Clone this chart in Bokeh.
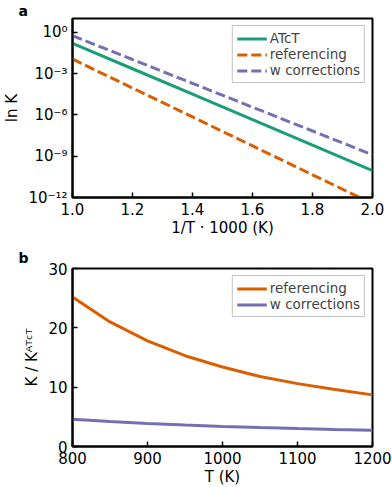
from bokeh.plotting import figure
from bokeh.models import (Range1d, FixedTicker, NumeralTickFormatter, Legend,
                          LegendItem, Title)
from bokeh.layouts import column
from bokeh.embed import file_html
from bokeh.resources import INLINE

# ---------------- data ----------------
# panel a: equilibrium constant vs 1000/T
inv_t = [1.0, 1.2, 1.4, 1.6, 1.8, 2.0]
k_atct = [1.58e-1, 2.24e-3, 3.16e-5, 4.47e-7, 6.31e-9, 8.91e-11]
k_referencing = [1.12e-2, 8.91e-5, 7.08e-7, 5.62e-9, 4.47e-11, 3.55e-13]
k_wcorr = [5.62e-1, 1.05e-2, 1.95e-4, 3.63e-6, 6.76e-8, 1.26e-9]
log_ticks = [1e-12, 1e-9, 1e-6, 1e-3, 1.0]
log_tick_labels = ["10\u207b\u00b9\u00b2", "10\u207b\u2079", "10\u207b\u2076",
                   "10\u207b\u00b3", "10\u2070"]
inv_t_ticks = [1.0, 1.2, 1.4, 1.6, 1.8, 2.0]

# panel b: ratio K / K^ATcT vs T
temps = [800, 850, 900, 950, 1000, 1050, 1100, 1150, 1200]
ratio_referencing = [25.2, 21.0, 17.8, 15.3, 13.4, 11.8, 10.6, 9.6, 8.7]
ratio_wcorr = [4.60, 4.20, 3.88, 3.61, 3.38, 3.19, 3.02, 2.88, 2.75]
t_ticks = [800, 900, 1000, 1100, 1200]
ratio_ticks = [0, 10, 20, 30]

GREEN = "#1b9e77"
ORANGE = "#d95f02"
PURPLE = "#7570b3"
FONT = "DejaVu Sans"


def style(p):
    p.outline_line_color = "black"
    p.outline_line_width = 2
    p.xgrid.visible = False
    p.ygrid.visible = False
    for ax in (p.xaxis[0], p.yaxis[0]):
        ax.axis_line_width = 2
        ax.major_tick_in = 5
        ax.major_tick_out = 0
        ax.major_tick_line_width = 1.5
        ax.minor_tick_line_color = None
        ax.major_label_text_font = FONT
        ax.major_label_text_font_size = "15px"
        ax.major_label_text_color = "black"
        ax.axis_label_text_font = FONT
        ax.axis_label_text_font_size = "15px"
        ax.axis_label_text_font_style = "normal"
        ax.axis_label_text_color = "black"
        ax.major_label_standoff = 5
    p.xaxis[0].axis_label_standoff = 1
    p.yaxis[0].axis_label_standoff = 4


def make_legend(items):
    lg = Legend(items=items, location="top_right")
    lg.label_text_font = FONT
    lg.label_text_font_size = "13.5px"
    lg.label_height = 15
    lg.glyph_height = 15
    lg.glyph_width = 30
    lg.label_standoff = 3
    lg.spacing = 0
    lg.padding = 4
    lg.margin = 7
    lg.border_line_color = "#888888"
    lg.border_line_width = 1
    return lg


def panel_title(txt, standoff):
    return Title(text=txt, align="left", offset=-54, standoff=standoff,
                 text_font=FONT, text_font_size="14px",
                 text_font_style="bold", text_color="black")


# ---------------- panel a ----------------
p1 = figure(width=392, height=240, frame_width=300, frame_height=179,
            y_axis_type="log", x_range=Range1d(1.0, 2.0),
            y_range=Range1d(1e-12, 10.0), output_backend="svg",
            toolbar_location=None, min_border_left=71, min_border_right=21,
            min_border_top=18, min_border_bottom=43)
r1 = p1.line(inv_t, k_atct, line_color=GREEN, line_width=3)
r2 = p1.line(inv_t, k_referencing, line_color=ORANGE, line_width=3,
             line_dash="10 4")
r3 = p1.line(inv_t, k_wcorr, line_color=PURPLE, line_width=3,
             line_dash="10 4")
style(p1)
p1.xaxis[0].ticker = FixedTicker(ticks=inv_t_ticks)
p1.xaxis[0].formatter = NumeralTickFormatter(format="0.0")
p1.xaxis[0].axis_label = "1/T \u00b7 1000 (K)"
p1.yaxis[0].ticker = FixedTicker(ticks=log_ticks)
p1.yaxis[0].major_label_overrides = dict(zip(log_ticks, log_tick_labels))
p1.yaxis[0].axis_label = "ln K"
p1.add_layout(make_legend([
    LegendItem(label="ATcT", renderers=[r1]),
    LegendItem(label="referencing", renderers=[r2]),
    LegendItem(label="w corrections", renderers=[r3]),
]), "center")
p1.add_layout(panel_title("a", 0), "above")

# ---------------- panel b ----------------
p2 = figure(width=392, height=247, frame_width=300, frame_height=178,
            x_range=Range1d(800, 1200), y_range=Range1d(0, 30),
            output_backend="svg", toolbar_location=None,
            min_border_left=71, min_border_right=21,
            min_border_top=28, min_border_bottom=41)
q1 = p2.line(temps, ratio_referencing, line_color=ORANGE, line_width=3)
q2 = p2.line(temps, ratio_wcorr, line_color=PURPLE, line_width=3)
style(p2)
p2.xaxis[0].ticker = FixedTicker(ticks=t_ticks)
p2.xaxis[0].axis_label = "T (K)"
p2.yaxis[0].ticker = FixedTicker(ticks=ratio_ticks)
p2.yaxis[0].axis_label = "K / K\u1d2c\u1d40\u1d9c\u1d40"
p2.add_layout(make_legend([
    LegendItem(label="referencing", renderers=[q1]),
    LegendItem(label="w corrections", renderers=[q2]),
]), "center")
p2.add_layout(panel_title("b", 6), "above")

layout = column(p1, p2, spacing=0)
open("out.html", "w").write(file_html(layout, INLINE))
